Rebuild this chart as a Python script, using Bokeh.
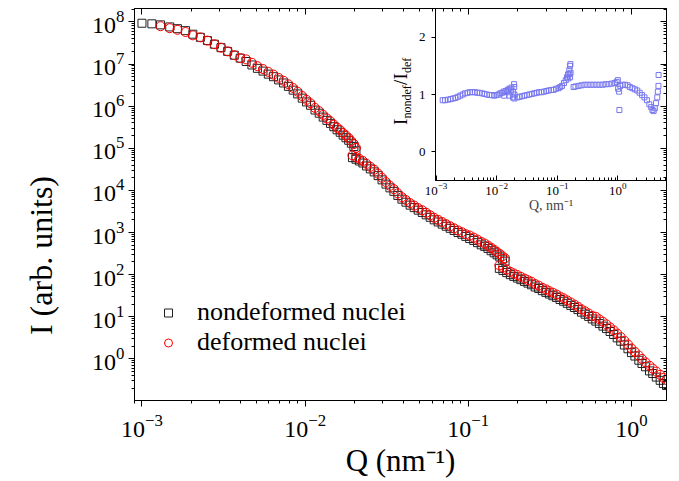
from math import pi
from bokeh.plotting import figure
from bokeh.models import Range1d, FixedTicker, LogAxis, Legend, LegendItem, Label
from bokeh.layouts import column
from bokeh.embed import file_html
from bokeh.resources import INLINE

FONT = "Liberation Serif"

# ---------------- main data (three detector settings) ----------------
q_a = [0.00100, 0.00115, 0.00130, 0.00148, 0.00165, 0.00185, 0.00205, 0.00228, 0.00252, 0.00278,
       0.00305, 0.00335, 0.00368, 0.00400, 0.00435, 0.00472, 0.00510, 0.00552, 0.00595, 0.00640,
       0.00688, 0.00738, 0.00790, 0.00845, 0.00900, 0.00960, 0.0102, 0.0108, 0.0115, 0.0122,
       0.0129, 0.0136, 0.0143, 0.0150, 0.0157, 0.0164, 0.0171, 0.0178, 0.0185, 0.0192,
       0.0199, 0.0205]
nondef_a = [9.3e7, 9.0e7, 8.5e7, 7.6e7, 6.9e7, 6.2e7, 5.1e7, 4.3e7, 3.6e7, 2.95e7,
            2.45e7, 2.0e7, 1.62e7, 1.38e7, 1.15e7, 9.5e6, 7.9e6, 6.8e6, 5.75e6, 5.0e6,
            4.2e6, 3.55e6, 2.95e6, 2.4e6, 1.95e6, 1.55e6, 1.26e6, 1.05e6, 8.1e5, 6.8e5,
            5.5e5, 4.6e5, 3.9e5, 3.25e5, 2.75e5, 2.4e5, 2.05e5, 1.78e5, 1.55e5, 1.32e5,
            1.1e5, 8.7e4]
q_def_a = [0.00130, 0.00148, 0.00165, 0.00185, 0.00205, 0.00228, 0.00252, 0.00278,
           0.00305, 0.00335, 0.00368, 0.00400, 0.00435, 0.00472, 0.00510, 0.00552, 0.00595, 0.00640,
           0.00688, 0.00738, 0.00790, 0.00845, 0.00900, 0.00960, 0.0102, 0.0108, 0.0115, 0.0122,
           0.0129, 0.0136, 0.0143, 0.0150, 0.0157, 0.0164, 0.0171, 0.0178, 0.0185, 0.0192,
           0.0199, 0.0205]
def_a = [7.9e7, 7.1e7, 6.5e7, 5.75e7, 4.8e7, 4.3e7, 3.6e7, 2.95e7,
         2.45e7, 2.0e7, 1.62e7, 1.38e7, 1.29e7, 1.07e7, 8.9e6, 7.6e6, 6.5e6, 5.6e6,
         4.7e6, 4.0e6, 3.3e6, 2.7e6, 2.2e6, 1.74e6, 1.41e6, 1.17e6, 9.1e5, 7.6e5,
         6.2e5, 5.1e5, 4.37e5, 3.63e5, 3.1e5, 2.7e5, 2.3e5, 2.0e5, 1.74e5, 1.48e5,
         1.26e5, 1.02e5]

q_b = [0.0195, 0.0205, 0.0215, 0.0226, 0.0238, 0.0251, 0.0265, 0.0280, 0.0296, 0.0313,
       0.0331, 0.0350, 0.0370, 0.0392, 0.0415, 0.0440, 0.0466, 0.0493, 0.0522, 0.0552,
       0.0584, 0.0618, 0.0654, 0.0692, 0.0732, 0.0774, 0.0818, 0.0865, 0.0914, 0.0966,
       0.102, 0.108, 0.114, 0.120, 0.126, 0.132, 0.138, 0.144, 0.150, 0.156, 0.162, 0.168]
nondef_b = [6.0e4, 5.5e4, 5.0e4, 4.47e4, 3.8e4, 3.24e4, 2.75e4, 2.24e4, 1.78e4, 1.41e4,
            1.15e4, 9.5e3, 7.6e3, 6.2e3, 5.25e3, 4.47e3, 3.9e3, 3.4e3, 3.0e3, 2.63e3,
            2.3e3, 2.0e3, 1.78e3, 1.58e3, 1.41e3, 1.26e3, 1.12e3, 1.0e3, 910, 810,
            720, 650, 575, 510, 470, 420, 370, 330, 295, 263, 234, 210]
def_b = [6.8e4, 6.2e4, 5.6e4, 5.0e4, 4.27e4, 3.63e4, 3.1e4, 2.5e4, 2.0e4, 1.58e4,
         1.29e4, 1.07e4, 8.5e3, 6.9e3, 5.9e3, 5.0e3, 4.37e3, 3.8e3, 3.39e3, 2.95e3,
         2.57e3, 2.24e3, 2.0e3, 1.78e3, 1.58e3, 1.41e3, 1.26e3, 1.12e3, 1.02e3, 910,
         850, 760, 680, 600, 550, 490, 437, 390, 347, 310, 275, 245]

q_c = [0.155, 0.163, 0.172, 0.181, 0.190, 0.200, 0.210, 0.221, 0.232, 0.244,
       0.257, 0.270, 0.284, 0.299, 0.314, 0.330, 0.347, 0.365, 0.384, 0.404,
       0.425, 0.447, 0.470, 0.494, 0.520, 0.547, 0.575, 0.605, 0.636, 0.669,
       0.703, 0.740, 0.778, 0.818, 0.860, 0.905, 0.952, 1.00, 1.05, 1.11,
       1.16, 1.22, 1.29, 1.35, 1.42, 1.50, 1.57, 1.64]
nondef_c = [141, 126, 112, 100, 91, 83, 76, 69, 63, 57.5,
            51, 47, 41.7, 38, 34.7, 31.6, 28.8, 25.7, 23.4, 20.9,
            18.6, 16.6, 14.8, 12.9, 11.5, 10.2, 8.9, 7.9, 6.9, 6.0,
            5.25, 4.47, 3.8, 3.16, 2.63, 2.14, 1.74, 1.41, 1.17, 0.93,
            0.78, 0.65, 0.52, 0.45, 0.37, 0.31, 0.26, 0.234]
def_c = [166, 148, 132, 117, 107, 98, 89, 81, 74, 68,
         60, 55, 49, 44.7, 40.7, 37.2, 33.9, 30.2, 27.5, 24.5,
         21.9, 19.5, 17.4, 15.1, 13.5, 12.0, 10.5, 10.0, 8.7, 7.6,
         6.6, 5.6, 4.8, 4.0, 3.3, 2.7, 2.2, 1.78, 1.48, 1.2,
         1.0, 0.83, 0.69, 0.59, 0.50, 0.42, 0.355, 0.316]

# ---------------- inset data: ratio I_nondef / I_def ----------------
q_ratio = [0.00129, 0.00141, 0.00158, 0.00174, 0.00191, 0.00209, 0.00229, 0.00251, 0.00275, 0.00302,
           0.00331, 0.00363, 0.00398, 0.00437, 0.00479, 0.00525, 0.00575, 0.00631, 0.00692, 0.00759,
           0.00832, 0.00912, 0.0100, 0.0107, 0.0115, 0.0123, 0.0131, 0.0133, 0.0141, 0.0151,
           0.0152, 0.0162, 0.0163, 0.0174, 0.0175, 0.0186, 0.0187, 0.0194, 0.0195, 0.0196, 0.0197,
           0.0219, 0.0240, 0.0263, 0.0288, 0.0316, 0.0347, 0.0380, 0.0417, 0.0457, 0.0501,
           0.0550, 0.0603, 0.0661, 0.0724, 0.0794, 0.0871, 0.0955, 0.105, 0.112, 0.120,
           0.129, 0.138, 0.145, 0.151, 0.152, 0.158, 0.159, 0.162, 0.163, 0.165, 0.166,
           0.186, 0.200, 0.224, 0.251, 0.282, 0.316, 0.355, 0.398, 0.447, 0.501,
           0.562, 0.631, 0.708, 0.794, 0.891, 0.955, 1.00, 1.01, 1.05, 1.06,
           1.10, 1.20, 1.32, 1.45, 1.58, 1.74, 1.91, 2.09, 2.29, 2.51,
           2.75, 3.02, 3.31, 3.55, 3.72, 3.89, 4.07, 4.27, 4.47, 4.57, 4.68, 4.70]
ratio = [0.90, 0.90, 0.91, 0.92, 0.93, 0.94, 0.96, 0.98, 1.00, 1.02,
         1.03, 1.04, 1.04, 1.04, 1.03, 1.03, 1.02, 1.01, 1.00, 0.99,
         0.99, 0.98, 0.99, 1.00, 1.02, 1.03, 1.05, 0.98, 1.06, 1.04,
         1.08, 1.10, 0.98, 1.07, 1.12, 0.95, 1.05, 1.18, 1.13, 0.93, 1.00,
         0.95, 0.96, 0.97, 0.98, 0.99, 1.00, 1.01, 1.02, 1.03, 1.04,
         1.04, 1.05, 1.06, 1.07, 1.08, 1.08, 1.10, 1.11, 1.13, 1.15,
         1.20, 1.25, 1.30, 1.35, 1.28, 1.42, 1.36, 1.50, 1.30, 1.53, 1.38,
         1.13, 1.14, 1.15, 1.16, 1.17, 1.17, 1.17, 1.17, 1.17, 1.17,
         1.17, 1.18, 1.18, 1.19, 1.20, 1.22, 1.25, 1.10, 1.05, 0.73,
         1.15, 1.17, 1.17, 1.16, 1.13, 1.11, 1.09, 1.07, 1.03, 0.99,
         0.95, 0.90, 0.83, 0.78, 0.73, 0.71, 0.76, 0.85, 0.95, 1.05, 1.15, 1.34]

x_major = [1e-3, 1e-2, 1e-1, 1.0]
y_major = [1e0, 1e1, 1e2, 1e3, 1e4, 1e5, 1e6, 1e7, 1e8]

# ---------------- main figure ----------------
p = figure(width=663, height=472, x_axis_type="log", y_axis_type="log",
           x_range=Range1d(9.0e-4, 1.64), y_range=Range1d(0.103, 2.08e8),
           output_backend="svg", toolbar_location=None,
           min_border_left=126, min_border_right=5, min_border_top=0, min_border_bottom=78)
p.frame_align = False
p.border_fill_color = None
p.background_fill_color = None
p.outline_line_color = "black"
p.grid.visible = False

xt = FixedTicker(ticks=x_major, minor_ticks=[m * 10.0 ** e for e in range(-4, 1) for m in range(2, 10)])
yt = FixedTicker(ticks=y_major, minor_ticks=[m * 10.0 ** e for e in range(-1, 9) for m in range(2, 10)])

xa = p.xaxis[0]
ya = p.yaxis[0]
xa.ticker = xt
ya.ticker = yt
xa.axis_label = "Q (nm\u207b\u00b9)"
xa.axis_label_text_font = FONT
xa.axis_label_text_font_size = "31px"
xa.axis_label_text_font_style = "normal"
xa.axis_label_text_color = "black"
for ax in (xa, ya):
    ax.major_label_text_font = FONT
    ax.major_label_text_font_size = "24px"
    ax.major_label_text_color = "black"
    ax.major_tick_out = 6
    ax.major_tick_in = 0
    ax.minor_tick_out = 3
    ax.minor_tick_in = 0
    ax.axis_line_color = "black"
    ax.major_tick_line_color = "black"
    ax.minor_tick_line_color = "black"
xa.major_label_standoff = 8
xa.axis_label_standoff = 3
ya.major_label_standoff = 4

for place, tk in (("above", xt), ("right", yt)):
    mirror = LogAxis(ticker=tk, major_label_text_font_size="1px", major_label_text_color=None,
                     major_label_standoff=0,
                     major_tick_in=6, major_tick_out=0, minor_tick_in=3, minor_tick_out=0,
                     axis_line_color="black")
    p.add_layout(mirror, place)

r_nondef = p.scatter(q_a + q_b + q_c, nondef_a + nondef_b + nondef_c, marker="square", size=8,
                     fill_color=None, line_color="#202020", line_width=1)
r_def = p.scatter(q_def_a + q_b + q_c, def_a + def_b + def_c, marker="circle", size=9,
                  fill_color=None, line_color="#ff0000", line_width=1)

legend = Legend(items=[LegendItem(label="nondeformed nuclei", renderers=[r_nondef]),
                       LegendItem(label="deformed nuclei", renderers=[r_def])],
                location=(24, 43), padding=0, margin=0, spacing=0,
                glyph_width=20, glyph_height=27, label_height=27, label_standoff=19,
                border_line_color=None, background_fill_alpha=0,
                label_text_font=FONT, label_text_font_size="26px", label_text_color="black")
p.add_layout(legend)

# y label of the inset: I_nondef / I_def, built from pieces (screen px from main frame corner)
ylab_pieces = [("I", "19px", 266, 275.5), ("nondef", "12px", 272, 282), ("/", "19px", 266, 315.5),
               ("I", "19px", 266, 321), ("def", "12px", 272, 327.5)]
for txt, fs, lx, ly in ylab_pieces:
    p.add_layout(Label(x=lx, y=ly, x_units="screen", y_units="screen", text=txt, angle=pi / 2,
                       text_font=FONT, text_font_size=fs, text_color="black",
                       text_align="left", text_baseline="alphabetic"))

# ---------------- y title of the main plot (own small transparent canvas) ----------------
yl = figure(width=50, height=200, x_range=Range1d(0, 1), y_range=Range1d(0, 1),
            output_backend="svg", toolbar_location=None,
            x_axis_location=None, y_axis_location=None,
            min_border_left=0, min_border_right=0, min_border_top=0, min_border_bottom=0)
yl.frame_align = False
yl.border_fill_color = None
yl.background_fill_color = None
yl.outline_line_color = None
yl.grid.visible = False
yl.add_layout(Label(x=0.5, y=0.5, text="I (arb. units)", angle=pi / 2,
                    text_font=FONT, text_font_size="32px", text_color="black",
                    text_align="center", text_baseline="middle"))

# ---------------- inset ----------------
ins = figure(width=283, height=212, x_axis_type="log",
             x_range=Range1d(9.8e-4, 6.35), y_range=Range1d(-0.5, 2.5),
             output_backend="svg", toolbar_location=None,
             min_border_left=50, min_border_right=2, min_border_top=0, min_border_bottom=40)
ins.frame_align = False
ins.border_fill_color = None
ins.background_fill_color = None
ins.outline_line_color = "black"
ins.grid.visible = False
ix = ins.xaxis[0]
iy = ins.yaxis[0]
ix.ticker = FixedTicker(ticks=x_major, minor_ticks=[m * 10.0 ** e for e in range(-3, 1) for m in range(2, 10)])
iy.ticker = FixedTicker(ticks=[0, 1, 2])
ix.axis_label = "Q, nm\u207b\u00b9"
ix.axis_label_text_font = FONT
ix.axis_label_text_font_size = "14px"
ix.axis_label_text_font_style = "normal"
ix.axis_label_standoff = 0
for ax in (ix, iy):
    ax.major_label_text_font = FONT
    ax.major_label_text_font_size = "13px"
    ax.major_label_text_color = "black"
    ax.axis_line_color = "black"
    ax.major_tick_line_color = "black"
    ax.minor_tick_line_color = "black"
ix.major_tick_in = 5
ix.major_tick_out = 0
ix.minor_tick_in = 3
ix.minor_tick_out = 0
ix.major_label_standoff = 2
iy.major_tick_in = 0
iy.major_tick_out = 4
iy.minor_tick_line_color = None
iy.major_label_standoff = 6

ins.scatter(q_ratio, ratio, marker="square", size=5, fill_color=None,
            line_color="#7878f0", line_width=1)

# inset and y title are laid over the main figure (net height zero in the column)
ins.margin = (8, 0, -220, 385)
yl.margin = (155, 0, -355, 15)
p.margin = (8, 0, 0, 8)
layout = column(ins, yl, p)

open("out.html", "w").write(file_html(layout, INLINE))
